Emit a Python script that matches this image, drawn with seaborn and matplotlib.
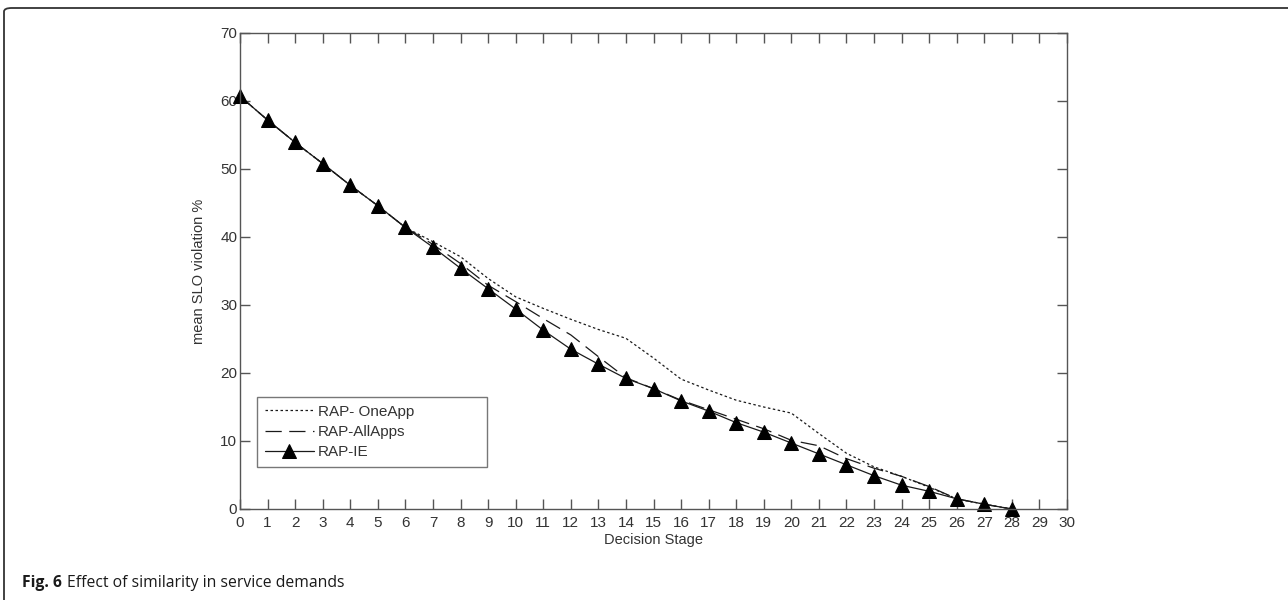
import matplotlib
matplotlib.use("Agg")
import matplotlib.pyplot as plt
from matplotlib.patches import FancyBboxPatch
import numpy as np
import pandas as pd
import seaborn as sns

# Decision stages and mean SLO violation (%) per strategy
stages = list(range(0, 29))
one_app = [60.7, 57.2, 53.9, 50.8, 47.6, 44.6, 41.4, 39.3, 37.1, 33.9,
           31.2, 29.5, 27.9, 26.4, 25.1, 22.2, 19.1, 17.5, 16.0, 15.0,
           14.1, 11.1, 8.2, 6.2, 4.8, 3.2, 1.5, 0.7, 0.0]
all_apps = [60.7, 57.2, 53.9, 50.8, 47.6, 44.6, 41.4, 38.9, 36.1, 32.9,
            30.5, 28.0, 25.6, 22.4, 19.3, 17.7, 16.0, 14.6, 13.2, 11.8,
            10.1, 9.3, 7.4, 6.0, 4.8, 3.3, 1.5, 0.7, 0.0]
rap_ie = [60.7, 57.2, 53.9, 50.8, 47.6, 44.6, 41.4, 38.5, 35.4, 32.4,
          29.4, 26.3, 23.5, 21.3, 19.2, 17.7, 15.9, 14.4, 12.7, 11.3,
          9.7, 8.1, 6.5, 4.9, 3.5, 2.6, 1.5, 0.7, 0.0]
series_names = ["RAP- OneApp", "RAP-AllApps", "RAP-IE"]
x_ticks = list(range(0, 31))
y_ticks = list(range(0, 71, 10))

sns.set_theme(style="white")
plt.rcParams["font.family"] = ["Liberation Sans", "DejaVu Sans"]

fig = plt.figure(figsize=(12.88, 6.0), dpi=100)
ax = fig.add_axes([240 / 1288, 1 - 509 / 600, 827 / 1288, 476 / 600])

line_col = "#1a1a1a"
sns.lineplot(x=stages, y=one_app, ax=ax, color=line_col, lw=0.9,
             linestyle=(0, (2.0, 2.0)), label=series_names[0])
sns.lineplot(x=stages, y=all_apps, ax=ax, color=line_col, lw=0.9,
             linestyle=(0, (13, 6)), label=series_names[1])
sns.lineplot(x=stages, y=rap_ie, ax=ax, color=line_col, lw=0.9,
             marker="^", markersize=9.5, markerfacecolor="black",
             markeredgecolor="black", label=series_names[2], clip_on=False)

ax.set_xlim(0, 30)
ax.set_ylim(0, 70)
ax.set_xticks(x_ticks)
ax.set_yticks(y_ticks)

axis_gray = "#555555"
text_gray = "#333333"
for s in ax.spines.values():
    s.set_visible(True)
    s.set_color(axis_gray)
    s.set_linewidth(1.0)
ax.tick_params(axis="both", which="both", direction="in", length=7,
               width=1.0, color=axis_gray, labelcolor=text_gray,
               labelsize=11, top=True, right=True, bottom=True, left=True)
ax.tick_params(axis="x", pad=5)
ax.tick_params(axis="y", pad=2)

ax.set_xlabel("Decision Stage", fontsize=10.5, color=text_gray, labelpad=2)
ax.set_ylabel("mean SLO violation %", fontsize=10.5, color=text_gray, labelpad=10)

leg = ax.legend(loc="lower left",
                bbox_to_anchor=(17 / 827, 42 / 476, 230 / 827, 0.1),
                mode="expand", fontsize=11, frameon=True, fancybox=False,
                handlelength=3.2, handletextpad=0.3, labelspacing=0.42,
                borderpad=0.5, borderaxespad=0)
leg.get_frame().set_edgecolor(axis_gray)
leg.get_frame().set_linewidth(1.0)
for t in leg.get_texts():
    t.set_color(text_gray)

# Page frame with a rounded top-left corner
frame = FancyBboxPatch((4 / 1288, -0.2), 1.2, 1.2 - 8 / 600,
                       boxstyle="round,pad=0,rounding_size=0.006",
                       transform=fig.transFigure, fill=False,
                       edgecolor="#333333", linewidth=1.3, clip_on=False)
fig.patches.append(frame)

cap_font = ["Open Sans", "DejaVu Sans"]
cap_y = 1 - 583 / 600
lead = fig.text(22 / 1288, cap_y, "Fig. 6", fontsize=11.3, fontweight="bold",
                family=cap_font, va="center", ha="left", color="#1a1a1a")
fig.canvas.draw()
lead_box = lead.get_window_extent()
fig.text((lead_box.x1 + 5) / fig.bbox.width, cap_y,
         "Effect of similarity in service demands", fontsize=11.3,
         family=cap_font, va="center", ha="left", color="#1a1a1a")

fig.savefig("out.png", dpi=100)
